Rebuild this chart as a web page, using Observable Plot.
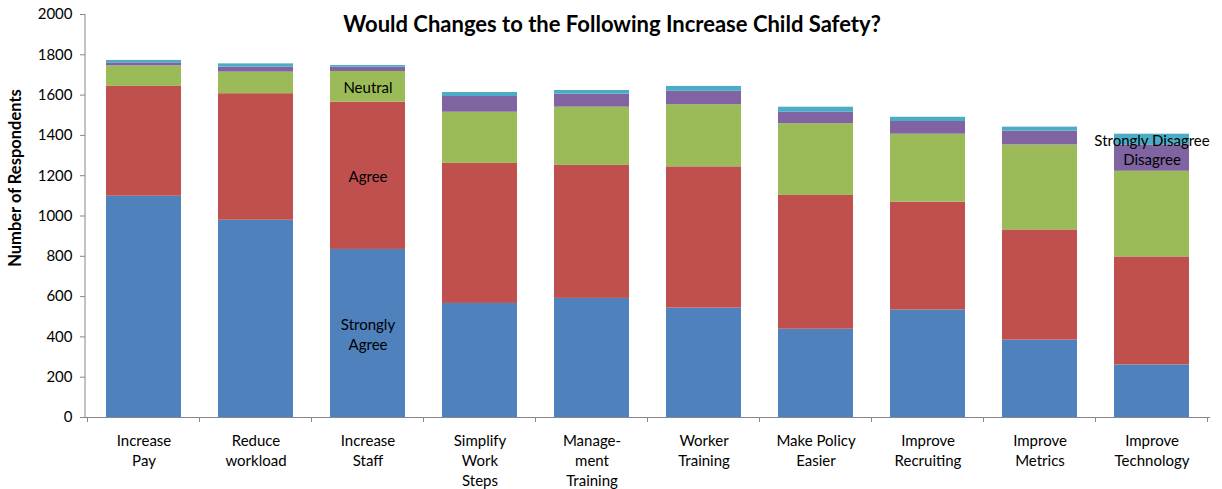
<!DOCTYPE html>
<html><head><meta charset="utf-8">
<script src="https://cdn.jsdelivr.net/npm/d3@7"></script>
<script src="https://cdn.jsdelivr.net/npm/@observablehq/plot@0.6"></script>
<style>
html,body{margin:0;padding:0;background:#fff;}
#chart{width:1222px;height:489px;}
</style></head><body><div id="chart"></div>
<script>
const chartTitle = "Would Changes to the Following Increase Child Safety?";
const yLabel = "Number of Respondents";
const categories = ["Increase Pay","Reduce workload","Increase Staff","Simplify Work Steps","Management Training","Worker Training","Make Policy Easier","Improve Recruiting","Improve Metrics","Improve Technology"];
const xTickLabels = ["Increase\nPay","Reduce\nworkload","Increase\nStaff","Simplify\nWork\nSteps","Manage-\nment\nTraining","Worker\nTraining","Make Policy\nEasier","Improve\nRecruiting","Improve\nMetrics","Improve\nTechnology"];
const seriesNames = ["Strongly Agree","Agree","Neutral","Disagree","Strongly Disagree"];
const seriesColors = ["#4F81BD","#C0504D","#9BBB59","#8064A2","#4BACC6"];
const stronglyAgree    = [1098, 979, 834, 566, 591, 543, 438, 533, 384, 261];
const agree            = [545, 628, 731, 695, 660, 701, 664, 536, 547, 536];
const neutral          = [102, 107, 152, 254, 289, 308, 356, 337, 422, 425];
const disagree         = [15, 25, 22, 78, 65, 67, 57, 63, 68, 131];
const stronglyDisagree = [12, 16, 8, 20, 18, 24, 25, 21, 20, 53];
const yTicks = [0,200,400,600,800,1000,1200,1400,1600,1800,2000];
const inChartLabels = [
  {category:"Increase Staff", series:"Strongly Agree", text:"Strongly\nAgree"},
  {category:"Increase Staff", series:"Agree", text:"Agree"},
  {category:"Increase Staff", series:"Neutral", text:"Neutral"},
  {category:"Improve Technology", series:"Disagree", text:"Disagree"},
  {category:"Improve Technology", series:"Strongly Disagree", text:"Strongly Disagree"}
];

const seriesValues = [stronglyAgree, agree, neutral, disagree, stronglyDisagree];
const rows = [];
seriesNames.forEach((s, si) => categories.forEach((c, ci) => rows.push({category:c, series:s, value:seriesValues[si][ci]})));
const labelRows = inChartLabels.map(l => {
  const ci = categories.indexOf(l.category), si = seriesNames.indexOf(l.series);
  let base = 0; for (let k = 0; k < si; k++) base += seriesValues[k][ci];
  return {...l, mid: base + seriesValues[si][ci] / 2};
});
const tickLabelByCategory = Object.fromEntries(categories.map((c, i) => [c, xTickLabels[i]]));

const font = "Lato, 'Open Sans', sans-serif";
const axisColor = "#868686";

function boundaryTicks(index, scales, values, dims) {
  const x = scales.x, y = scales.y;
  const g = d3.create("svg:g");
  const p0 = x(categories[0]), p1 = x(categories[1]);
  const step = p1 - p0;
  const bw = typeof x.bandwidth === "function" ? x.bandwidth() : step * (1 - 0.333);
  const y0 = y(0);
  const xs = categories.map(c => x(c) - (step - bw) / 2);
  xs.push(xs[xs.length - 1] + step);
  g.selectAll("line.tk").data(xs).join("line")
    .attr("x1", d => d).attr("x2", d => d)
    .attr("y1", y0).attr("y2", y0 + 5)
    .attr("stroke", axisColor);
  g.append("line")
    .attr("x1", dims.marginLeft).attr("x2", dims.marginLeft)
    .attr("y1", y(2000)).attr("y2", y0)
    .attr("stroke", axisColor);
  return g.node();
}

const chart = Plot.plot({
  width: 1222, height: 489,
  marginTop: 14, marginBottom: 72, marginLeft: 85, marginRight: 12,
  style: {fontFamily: font, fontSize: "15px", color: "#000", background: "#fff"},
  x: {domain: categories, paddingInner: 0.333, paddingOuter: 0.1665, align: 0.5, axis: null},
  y: {domain: [0, 2000], axis: null},
  color: {domain: seriesNames, range: seriesColors},
  marks: [
    Plot.barY(rows, {x: "category", y: "value", fill: "series"}),
    Plot.ruleY([0], {stroke: axisColor}),
    boundaryTicks,
    Plot.axisY({ticks: yTicks, tickSize: 5, tickPadding: 8, tickFormat: d => String(d), label: null, stroke: axisColor, fill: "#000", fontSize: 15}),
    Plot.axisX({tickSize: 0, tickPadding: 14, tickFormat: d => tickLabelByCategory[d], label: null, lineHeight: 1.33, fill: "#000", fontSize: 15}),
    Plot.text(labelRows, {x: "category", y: "mid", text: "text", fontSize: 15, fill: "#000", lineHeight: 1.36}),
    Plot.text([chartTitle], {frameAnchor: "top", lineAnchor: "middle", dx: -36, dy: 10, fontSize: 22, fontWeight: "bold", fill: "#000"}),
    Plot.text([yLabel], {frameAnchor: "left", textAnchor: "middle", dx: -70, dy: -38, rotate: -90, fontSize: 16.5, fontWeight: "bold", fill: "#000"})
  ]
});
document.getElementById("chart").appendChild(chart);
</script>
</body></html>
